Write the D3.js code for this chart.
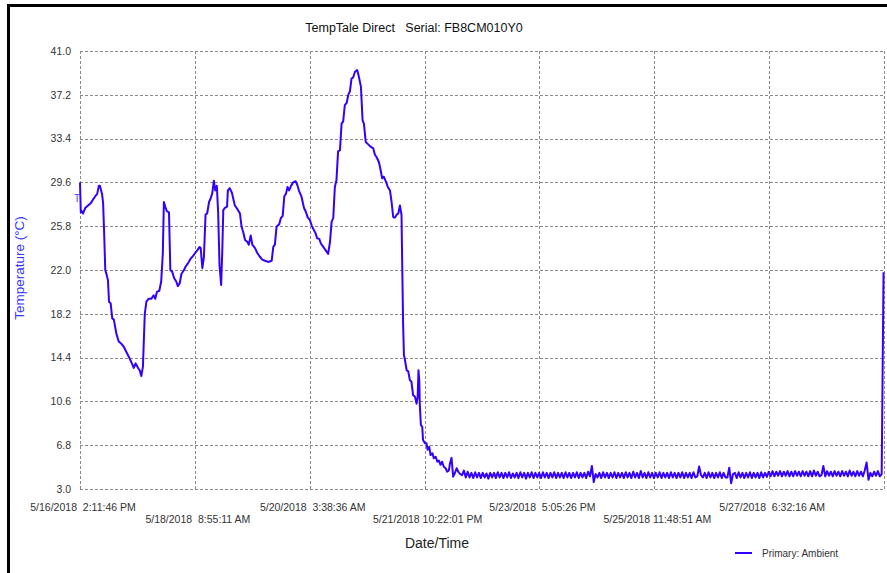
<!DOCTYPE html>
<html>
<head>
<meta charset="utf-8">
<script src="https://cdn.jsdelivr.net/npm/d3@7/dist/d3.min.js"></script>
<style>
  html, body { margin: 0; padding: 0; background: #fff; }
  svg { display: block; font-family: "Liberation Sans", Arial, sans-serif; }
</style>
</head>
<body>
<svg id="chart" width="887" height="573"></svg>
<script>
// ---------------- DATA ----------------
const chartTitle = "TempTale Direct   Serial: FB8CM010Y0";
const yTitle = "Temperature (\u00B0C)";
const xTitle = "Date/Time";
const seriesName = "Primary: Ambient";

const startTime = "2018-05-16T14:11:46";
const endTime = "2018-05-29T01:15:41";

const yTicks = [3.0, 6.8, 10.6, 14.4, 18.2, 22.0, 25.8, 29.6, 33.4, 37.2, 41.0];

const xTickTimes = [
  "2018-05-16T14:11:46", "2018-05-18T08:55:11", "2018-05-20T03:38:36",
  "2018-05-21T22:22:01", "2018-05-23T17:05:26", "2018-05-25T11:48:51",
  "2018-05-27T06:32:16", "2018-05-29T01:15:41"
];
const xTickLabels = [
  "5/16/2018  2:11:46 PM", "5/18/2018  8:55:11 AM", "5/20/2018  3:38:36 AM",
  "5/21/2018 10:22:01 PM", "5/23/2018  5:05:26 PM", "5/25/2018 11:48:51 AM",
  "5/27/2018  6:32:16 AM", ""
];

// readings: [hours elapsed since start, temperature °C]
const readings = [
  [0.0,29.6],[0.3,27.0],[0.7,27.1],[1.1,26.9],[2.0,27.4],[3.0,27.6],[4.0,27.8],[4.8,28.1],[5.7,28.4],[6.4,28.6],
  [7.0,29.3],[7.4,29.3],[8.2,28.6],[8.6,27.8],[8.9,25.8],[9.4,22.0],[9.9,21.6],[10.4,21.1],[10.8,19.25],[11.4,19.1],
  [12.0,17.8],[12.6,17.7],[13.5,16.5],[14.4,15.8],[15.4,15.6],[16.4,15.3],[17.2,14.9],[18.1,14.5],[19.1,14.0],[20.0,13.5],
  [20.7,13.9],[21.6,13.5],[22.2,13.3],[22.8,12.8],[23.4,13.6],[24.1,18.2],[24.7,19.25],[25.5,19.5],[26.5,19.5],[27.4,19.8],
  [28.0,19.5],[28.6,20.1],[29.5,20.2],[30.2,21.0],[30.8,23.4],[31.2,27.9],[31.7,27.5],[32.3,27.1],[33.1,27.0],[33.6,22.0],
  [34.3,21.85],[35.0,21.3],[35.8,21.0],[36.4,20.6],[37.1,20.85],[37.7,21.65],[38.7,22.0],[39.3,22.3],[40.2,22.6],[41.2,23.0],
  [42.0,23.2],[42.9,23.5],[43.6,23.7],[44.5,24.0],[44.9,23.9],[45.5,22.15],[46.1,23.15],[46.7,26.8],[47.3,26.9],[48.0,27.9],
  [48.6,28.2],[49.2,28.65],[49.8,29.75],[50.3,28.9],[50.9,29.3],[51.4,26.9],[51.9,22.4],[52.5,20.7],[52.9,23.45],[53.3,27.2],
  [53.9,27.4],[54.7,27.5],[55.0,28.9],[55.7,29.1],[56.5,28.7],[57.6,27.6],[58.5,27.3],[59.5,26.9],[60.1,25.75],[60.7,25.3],
  [61.4,24.6],[62.2,24.45],[62.8,24.2],[63.5,25.0],[64.1,24.2],[65.1,23.9],[65.9,23.5],[66.9,23.15],[67.8,22.9],[68.8,22.8],
  [70.0,22.7],[71.3,22.8],[71.9,24.0],[72.5,24.2],[73.1,25.75],[74.1,25.97],[74.7,26.5],[75.4,26.7],[76.0,28.4],[76.6,28.6],
  [77.2,29.2],[77.8,28.9],[78.5,29.3],[79.3,29.6],[80.2,29.7],[80.8,29.4],[81.5,28.85],[82.4,28.36],[83.3,27.4],[84.0,27.05],
  [84.7,26.57],[85.5,26.34],[86.2,25.85],[86.7,25.6],[87.6,25.2],[88.2,24.75],[89.0,24.7],[89.6,24.3],[90.5,24.0],[91.4,23.7],
  [92.3,23.4],[93.0,24.45],[93.6,26.2],[94.2,26.5],[94.8,29.2],[95.4,29.8],[96.0,32.3],[96.7,32.4],[97.3,34.7],[97.9,34.9],
  [98.5,36.3],[99.2,36.5],[99.8,37.2],[100.4,37.5],[101.0,38.6],[101.6,38.7],[102.3,39.2],[103.1,39.35],[103.7,38.8],[104.5,37.9],
  [105.1,35.0],[105.6,34.7],[106.3,33.1],[107.2,32.9],[108.1,32.7],[109.1,32.55],[109.7,32.0],[110.3,31.8],[111.2,31.35],[111.8,30.7],
  [112.4,29.95],[113.0,30.1],[113.8,29.66],[114.5,29.2],[115.3,28.9],[115.9,27.9],[116.5,26.6],[117.1,26.54],[117.8,26.8],[118.4,26.9],
  [119.0,27.6],[119.6,26.77],[119.8,23.3],[120.2,17.2],[120.5,14.6],[120.8,14.3],[121.5,13.3],[122.1,13.2],[122.7,12.45],[123.3,12.3],
  [123.9,11.15],[124.6,11.0],[125.2,10.4],[125.6,11.0],[125.9,13.3],[126.2,12.45],[126.4,10.3],[126.8,8.55],[127.3,8.4],[127.6,7.25],
  [128.3,6.96],[128.9,6.96],[129.3,6.4],[129.9,6.67],[130.4,5.95],[131.1,6.1],[131.6,5.66],[132.3,5.8],[132.9,5.37],[133.5,5.46],
  [134.1,5.1],[134.7,5.37],[135.3,4.93],[136.0,4.8],[136.6,4.5],[137.2,4.6],[137.6,5.2],[138.2,5.7],[138.8,4.07],[139.4,4.36],
  [140.1,4.8],[140.7,4.5],
  [141.4,4.3],[142.1,4.2],[142.8,4.6],[143.5,4.0],[144.2,4.5],[144.9,4.0],[145.6,4.4],[146.3,3.95],[147.0,4.45],[147.7,4.0],
  [148.4,4.4],[149.1,3.95],[149.8,4.4],[150.5,4.0],[151.2,4.35],[151.9,3.9],[152.6,4.4],[153.3,4.0],[154.0,4.4],[154.7,3.95],
  [155.4,4.45],[156.1,4.0],[156.8,4.4],[157.5,3.95],[158.2,4.4],[158.9,4.0],[159.6,4.45],[160.3,3.95],[161.0,4.35],[161.7,4.0],
  [162.4,4.4],[163.1,3.95],[163.8,4.45],[164.5,4.0],[165.2,4.4],[165.9,3.9],[166.6,4.4],[167.3,4.0],[168.0,4.45],[168.7,3.95],
  [169.4,4.4],[170.1,4.0],[170.8,4.4],[171.5,3.95],[172.2,4.45],[172.9,4.0],[173.6,4.4],[174.3,3.95],[175.0,4.4],[175.7,4.0],
  [176.4,4.45],[177.1,3.95],[177.8,4.4],[178.5,4.0],[179.2,4.4],[179.9,3.95],[180.6,4.45],[181.3,4.0],[182.0,4.4],[182.7,3.95],
  [183.4,4.4],[184.1,4.0],[184.8,4.45],[185.5,3.95],[186.2,4.4],[186.9,4.0],[187.6,4.4],[188.3,3.95],[189.0,4.5],[189.7,4.1],
  [190.4,5.0],[191.1,3.6],[191.8,4.3],[192.5,4.0],[193.2,4.4],[193.9,3.95],[194.6,4.45],[195.3,4.0],[196.0,4.4],[196.7,3.95],
  [197.4,4.4],[198.1,4.0],[198.8,4.45],[199.5,3.95],[200.2,4.4],[200.9,4.0],[201.6,4.4],[202.3,3.95],[203.0,4.45],[203.7,4.0],
  [204.4,4.4],[205.1,3.95],[205.8,4.5],[206.5,4.0],[207.2,4.4],[207.9,3.95],[208.6,4.55],[209.3,4.0],[210.0,4.4],[210.7,3.95],
  [211.4,4.45],[212.1,4.0],[212.8,4.4],[213.5,3.95],[214.2,4.4],[214.9,4.0],[215.6,4.45],[216.3,3.95],[217.0,4.4],[217.7,4.0],
  [218.4,4.4],[219.1,3.95],[219.8,4.45],[220.5,4.0],[221.2,4.4],[221.9,3.95],[222.6,4.4],[223.3,4.0],[224.0,4.45],[224.7,3.95],
  [225.4,4.4],[226.1,4.0],[226.8,4.4],[227.5,3.95],[228.2,4.45],[228.9,4.0],[229.6,4.1],[230.3,4.95],[231.0,4.2],[231.7,4.0],
  [232.4,4.4],[233.1,3.95],[233.8,4.45],[234.5,4.0],[235.2,4.4],[235.9,3.95],[236.6,4.4],[237.3,4.0],[238.0,4.45],[238.7,3.95],
  [239.4,4.4],[240.1,4.0],[240.8,4.0],[241.5,4.85],[242.2,3.5],[242.9,4.3],[243.6,4.4],[244.3,3.95],[245.0,4.45],[245.7,4.0],
  [246.4,4.4],[247.1,3.95],[247.8,4.4],[248.5,4.0],[249.2,4.45],[249.9,3.95],[250.6,4.4],[251.3,4.0],[252.0,4.4],[252.7,3.95],
  [253.4,4.45],[254.1,4.0],[254.8,4.4],[255.5,4.05],[256.2,4.5],[256.9,4.1],[257.6,4.55],[258.3,4.1],[259.0,4.5],[259.7,4.15],
  [260.4,4.55],[261.1,4.1],[261.8,4.5],[262.5,4.15],[263.2,4.55],[263.9,4.1],[264.6,4.5],[265.3,4.1],[266.0,4.55],[266.7,4.15],
  [267.4,4.5],[268.1,4.1],[268.8,4.55],[269.5,4.15],[270.2,4.5],[270.9,4.1],[271.6,4.55],[272.3,4.1],[273.0,4.6],[273.7,4.15],
  [274.4,4.5],[275.1,4.1],[275.8,4.2],[276.5,5.0],[277.2,4.1],[277.9,4.55],[278.6,4.15],[279.3,4.5],[280.0,4.1],[280.7,4.55],
  [281.4,4.15],[282.1,4.5],[282.8,4.1],[283.5,4.55],[284.2,4.15],[284.9,4.5],[285.6,4.1],[286.3,4.6],[287.0,4.15],[287.7,4.5],
  [288.4,4.1],[289.1,4.55],[289.8,4.15],[290.5,4.5],[291.2,4.1],[291.9,4.6],[292.6,5.3],[293.3,3.8],[294.0,4.4],[294.7,4.1],
  [295.4,4.5],[296.1,4.15],[296.8,4.55],[297.5,4.1],[298.2,4.3],[298.9,21.8]
];

// ---------------- DRAW ----------------
const svg = d3.select("#chart");
const W = 887, H = 573;
const plot = { left: 80, right: 884, top: 51, bottom: 489 };
const lineColor = "#3300ff";
const gridColor = "#8a8a8a";
const textColor = "#333";

const t0 = new Date(startTime);
const toDate = h => new Date(t0.getTime() + h * 3600000);

const x = d3.scaleTime()
  .domain([new Date(startTime), new Date(endTime)])
  .range([plot.left, plot.right]);
const y = d3.scaleLinear()
  .domain([3.0, 41.0])
  .range([plot.bottom, plot.top]);

// frame (black border)
svg.append("rect").attr("x", 7).attr("y", 4).attr("width", W - 7).attr("height", 3).attr("fill", "#000");
svg.append("rect").attr("x", 7).attr("y", 4).attr("width", 3).attr("height", H - 4).attr("fill", "#000");

// title
svg.append("text")
  .attr("x", 414).attr("y", 32)
  .attr("text-anchor", "middle")
  .attr("font-size", 12.5)
  .attr("fill", "#111")
  .style("white-space", "pre")
  .attr("xml:space", "preserve")
  .text(chartTitle);

// gridlines
const grid = svg.append("g").attr("stroke", gridColor).attr("stroke-width", 1)
  .attr("stroke-dasharray", "3,2").attr("fill", "none");
grid.selectAll("line.h").data(yTicks).join("line")
  .attr("class", "h")
  .attr("x1", plot.left).attr("x2", plot.right)
  .attr("y1", d => Math.round(y(d)) + 0.5).attr("y2", d => Math.round(y(d)) + 0.5);
grid.selectAll("line.v").data(xTickTimes).join("line")
  .attr("class", "v")
  .attr("y1", plot.top).attr("y2", plot.bottom)
  .attr("x1", d => Math.round(x(new Date(d))) + 0.5).attr("x2", d => Math.round(x(new Date(d))) + 0.5);

// y axis labels
const yAxis = d3.axisLeft(y).tickValues(yTicks).tickFormat(d3.format(".1f")).tickSize(0).tickPadding(9);
const gy = svg.append("g").attr("transform", `translate(${plot.left},0)`).call(yAxis);
gy.select(".domain").remove();
gy.selectAll("text").attr("font-size", 10.5).attr("fill", textColor)
  .attr("font-family", "'Liberation Sans', Arial, sans-serif");

// x axis labels (alternating rows)
svg.append("g").selectAll("text").data(xTickTimes.map((d, i) => ({ d, label: xTickLabels[i], i })))
  .join("text")
  .attr("x", e => x(new Date(e.d)) + 3)
  .attr("y", e => e.i % 2 === 0 ? 511 : 523)
  .attr("text-anchor", "middle")
  .attr("font-size", 10.5)
  .attr("fill", textColor)
  .attr("xml:space", "preserve")
  .style("white-space", "pre")
  .text(e => e.label);

// axis titles
svg.append("text")
  .attr("x", 437).attr("y", 548)
  .attr("text-anchor", "middle")
  .attr("font-size", 14)
  .attr("fill", "#222")
  .text(xTitle);
svg.append("text")
  .attr("transform", "translate(24,268) rotate(-90)")
  .attr("text-anchor", "middle")
  .attr("font-size", 13.5)
  .attr("fill", "#3333ff")
  .text(yTitle);

// trip marker
svg.append("text")
  .attr("x", 74).attr("y", 202)
  .attr("font-size", 10)
  .attr("fill", "#4444ff")
  .text("T");

// series line
const line = d3.line()
  .x(d => x(toDate(d[0])))
  .y(d => y(d[1]));
svg.append("path")
  .datum(readings)
  .attr("d", line)
  .attr("fill", "none")
  .attr("stroke", lineColor)
  .attr("stroke-width", 2)
  .attr("stroke-linejoin", "round");

// legend
svg.append("line")
  .attr("x1", 735).attr("x2", 752).attr("y1", 553).attr("y2", 553)
  .attr("stroke", lineColor).attr("stroke-width", 2);
svg.append("text")
  .attr("x", 762).attr("y", 556.5)
  .attr("font-size", 10)
  .attr("fill", textColor)
  .text(seriesName);
</script>
</body>
</html>
